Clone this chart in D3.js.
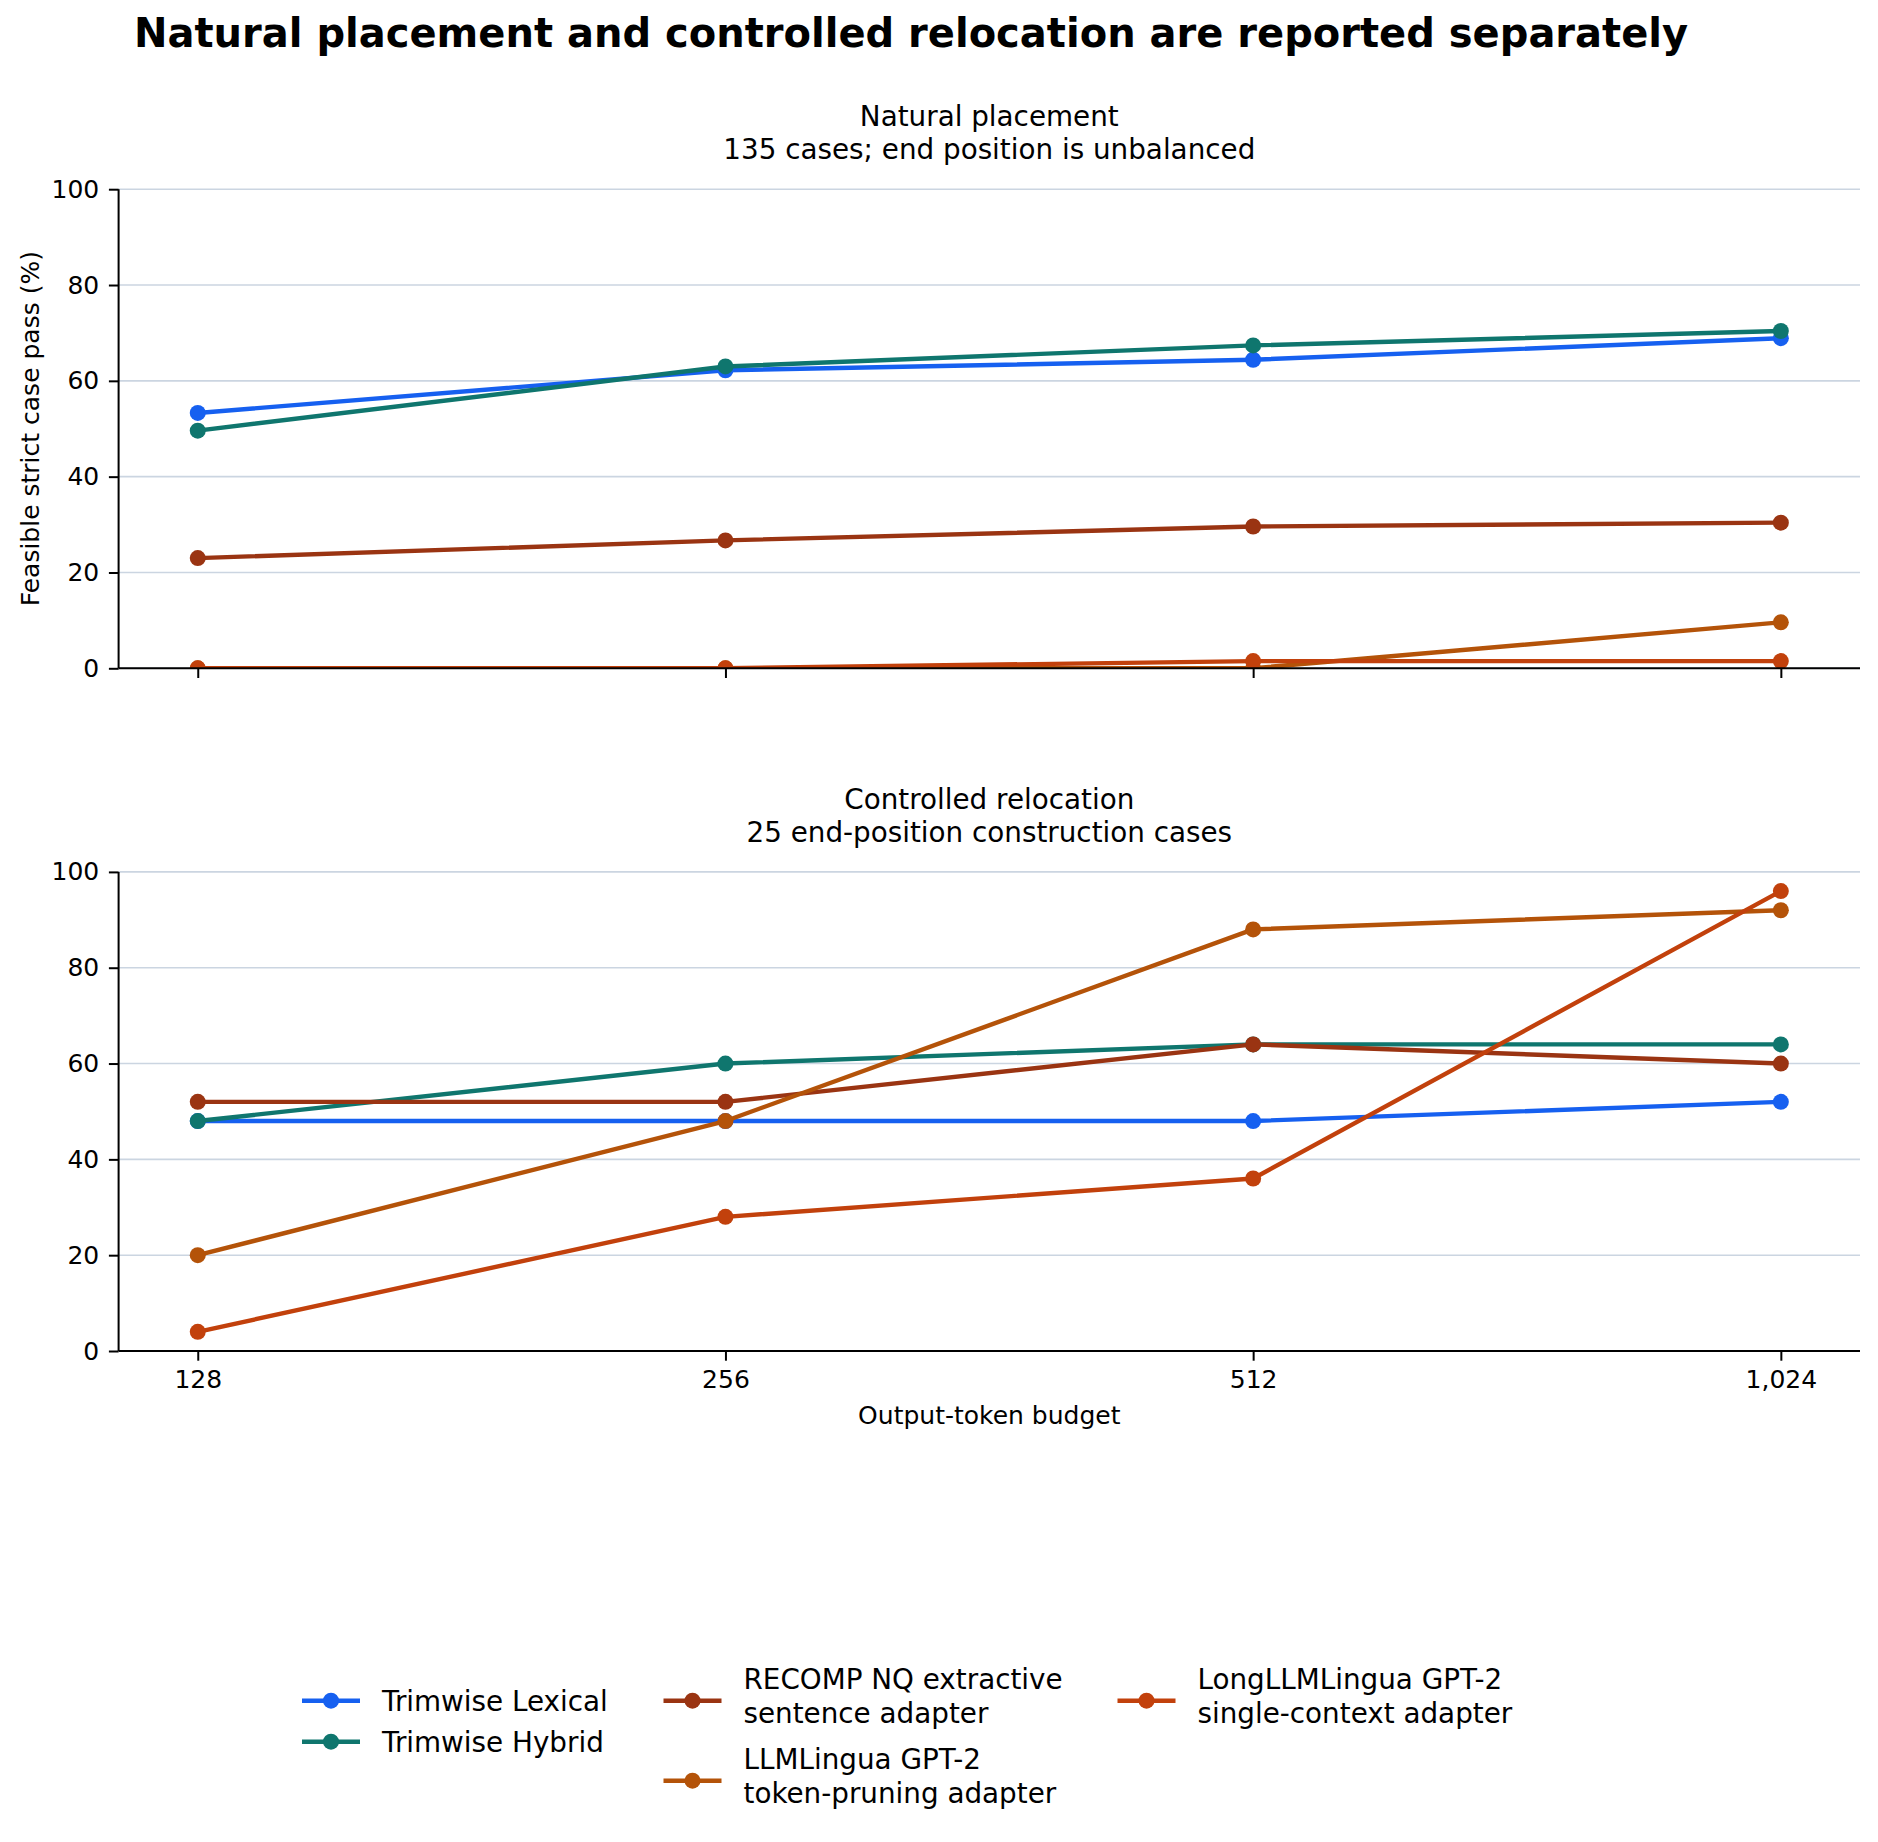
<!DOCTYPE html>
<html>
<head>
<meta charset="utf-8">
<script src="https://cdn.jsdelivr.net/npm/d3@7"></script>
<style>
    body { margin: 0; background: #ffffff; }
    text { font-family: "DejaVu Sans", sans-serif; fill: #000000; }
    .grid line { stroke: #cbd5e1; stroke-width: 1.6; }
    .axis path, .axis line { stroke: #000000; stroke-width: 2; }
</style>
</head>
<body>
<div id="chart"></div>
<script>
// data
var budgets = [128, 256, 512, 1024];
var seriesNames = ["Trimwise Lexical", "Trimwise Hybrid", "RECOMP NQ extractive sentence adapter",
    "LLMLingua GPT-2 token-pruning adapter", "LongLLMLingua GPT-2 single-context adapter"];
var legendLines = [["Trimwise Lexical"], ["Trimwise Hybrid"], ["RECOMP NQ extractive", "sentence adapter"],
    ["LLMLingua GPT-2", "token-pruning adapter"], ["LongLLMLingua GPT-2", "single-context adapter"]];
var seriesColors = ["#1660f0", "#0f766e", "#9a3412", "#b45309", "#c2410c"];

// natural placement, 135 cases
var naturalLexical = [53.3, 62.2, 64.4, 68.9];
var naturalHybrid = [49.6, 63.0, 67.4, 70.4];
var naturalRecomp = [23.0, 26.7, 29.6, 30.4];
var naturalLLMLingua = [0, 0, 0, 9.6];
var naturalLongLLMLingua = [0, 0, 1.5, 1.5];

// controlled relocation, 25 cases
var controlledLexical = [48, 48, 48, 52];
var controlledHybrid = [48, 60, 64, 64];
var controlledRecomp = [52, 52, 64, 60];
var controlledLLMLingua = [20, 48, 88, 92];
var controlledLongLLMLingua = [4, 28, 36, 96];

var yTicks = [0, 20, 40, 60, 80, 100];

var width = 1878, height = 1842;
var left = 118.6, right = 1860;
var lineWidth = 4.4, dotRadius = 8;

var svg = d3.select("#chart").append("svg")
    .attr("width", width)
    .attr("height", height);

svg.append("rect")
    .attr("width", width)
    .attr("height", height)
    .attr("fill", "#ffffff");

svg.append("text")
    .attr("x", 134)
    .attr("y", 47)
    .attr("font-size", 40)
    .attr("font-weight", "bold")
    .text("Natural placement and controlled relocation are reported separately");

var x = d3.scalePoint()
    .domain(budgets)
    .range([left, right])
    .padding(0.15);

function drawPanel(id, top, bottom, titleLines, seriesValues, showLabels) {
    var y = d3.scaleLinear()
        .domain([0, 100])
        .range([bottom, top]);

    var g = svg.append("g").attr("class", "panel");

    // grid
    g.append("g")
        .attr("class", "grid")
        .selectAll("line")
        .data(yTicks)
        .enter().append("line")
        .attr("x1", left)
        .attr("x2", right)
        .attr("y1", function (d) { return y(d); })
        .attr("y2", function (d) { return y(d); });

    svg.append("clipPath")
        .attr("id", "clip-" + id)
        .append("rect")
        .attr("x", left)
        .attr("y", top)
        .attr("width", right - left)
        .attr("height", bottom - top);

    var plot = g.append("g").attr("clip-path", "url(#clip-" + id + ")");

    var line = d3.line()
        .x(function (d, i) { return x(budgets[i]); })
        .y(function (d) { return y(d); });

    seriesValues.forEach(function (vals, s) {
        plot.append("path")
            .attr("d", line(vals))
            .attr("fill", "none")
            .attr("stroke", seriesColors[s])
            .attr("stroke-width", lineWidth)
            .attr("stroke-linejoin", "round")
            .attr("stroke-linecap", "butt");

        plot.selectAll(".dot-" + s)
            .data(vals)
            .enter().append("circle")
            .attr("class", "dot-" + s)
            .attr("cx", function (d, i) { return x(budgets[i]); })
            .attr("cy", function (d) { return y(d); })
            .attr("r", dotRadius)
            .attr("fill", seriesColors[s]);
    });

    var xAxis = d3.axisBottom(x)
        .tickSize(9.7)
        .tickPadding(9.7)
        .tickFormat(function (d) { return showLabels ? d3.format(",")(d) : ""; });

    var yAxis = d3.axisLeft(y)
        .tickValues(yTicks)
        .tickSize(9.7)
        .tickPadding(9.7);

    var xg = g.append("g")
        .attr("class", "axis")
        .attr("transform", "translate(0," + bottom + ")")
        .call(xAxis);
    xg.select(".domain").attr("d", "M" + left + ",0H" + right);

    var yg = g.append("g")
        .attr("class", "axis")
        .attr("transform", "translate(" + left + ",0)")
        .call(yAxis);
    yg.select(".domain").attr("d", "M0," + top + "V" + bottom);

    g.selectAll(".axis text")
        .attr("font-size", 25)
        .attr("font-family", "DejaVu Sans")
        .attr("fill", "#000000");

    // panel title
    var cx = (left + right) / 2;
    g.append("text")
        .attr("x", cx)
        .attr("y", top - 63)
        .attr("text-anchor", "middle")
        .attr("font-size", 27.8)
        .text(titleLines[0]);
    g.append("text")
        .attr("x", cx)
        .attr("y", top - 30)
        .attr("text-anchor", "middle")
        .attr("font-size", 27.8)
        .text(titleLines[1]);
}

drawPanel("natural", 189.2, 668.3, ["Natural placement", "135 cases; end position is unbalanced"],
    [naturalLexical, naturalHybrid, naturalRecomp, naturalLLMLingua, naturalLongLLMLingua], false);

drawPanel("controlled", 871.9, 1351, ["Controlled relocation", "25 end-position construction cases"],
    [controlledLexical, controlledHybrid, controlledRecomp, controlledLLMLingua, controlledLongLLMLingua], true);

// axis labels
svg.append("text")
    .attr("transform", "translate(39,428.7) rotate(-90)")
    .attr("text-anchor", "middle")
    .attr("font-size", 25)
    .text("Feasible strict case pass (%)");

svg.append("text")
    .attr("x", (left + right) / 2)
    .attr("y", 1424)
    .attr("text-anchor", "middle")
    .attr("font-size", 25)
    .text("Output-token budget");

// legend
var legendPos = [
    {hx: 302, ty: 1711, hy: 1700.7},
    {hx: 302, ty: 1751.7, hy: 1741.7},
    {hx: 663.5, ty: 1689.3, hy: 1700.7},
    {hx: 663.5, ty: 1769.3, hy: 1780.7},
    {hx: 1117.5, ty: 1689.3, hy: 1700.7}
];
var handleLength = 58;

var legend = svg.selectAll(".legend")
    .data(seriesNames)
    .enter().append("g")
    .attr("class", "legend");

legend.append("line")
    .attr("x1", function (d, i) { return legendPos[i].hx; })
    .attr("x2", function (d, i) { return legendPos[i].hx + handleLength; })
    .attr("y1", function (d, i) { return legendPos[i].hy; })
    .attr("y2", function (d, i) { return legendPos[i].hy; })
    .attr("stroke", function (d, i) { return seriesColors[i]; })
    .attr("stroke-width", lineWidth);

legend.append("circle")
    .attr("cx", function (d, i) { return legendPos[i].hx + handleLength / 2; })
    .attr("cy", function (d, i) { return legendPos[i].hy; })
    .attr("r", dotRadius)
    .attr("fill", function (d, i) { return seriesColors[i]; });

legend.append("text")
    .attr("font-size", 27.8)
    .each(function (d, i) {
        var t = d3.select(this);
        legendLines[i].forEach(function (l, j) {
            t.append("tspan")
                .attr("x", legendPos[i].hx + handleLength + 22)
                .attr("y", legendPos[i].ty + j * 33.4)
                .text(l);
        });
    });
</script>
</body>
</html>
